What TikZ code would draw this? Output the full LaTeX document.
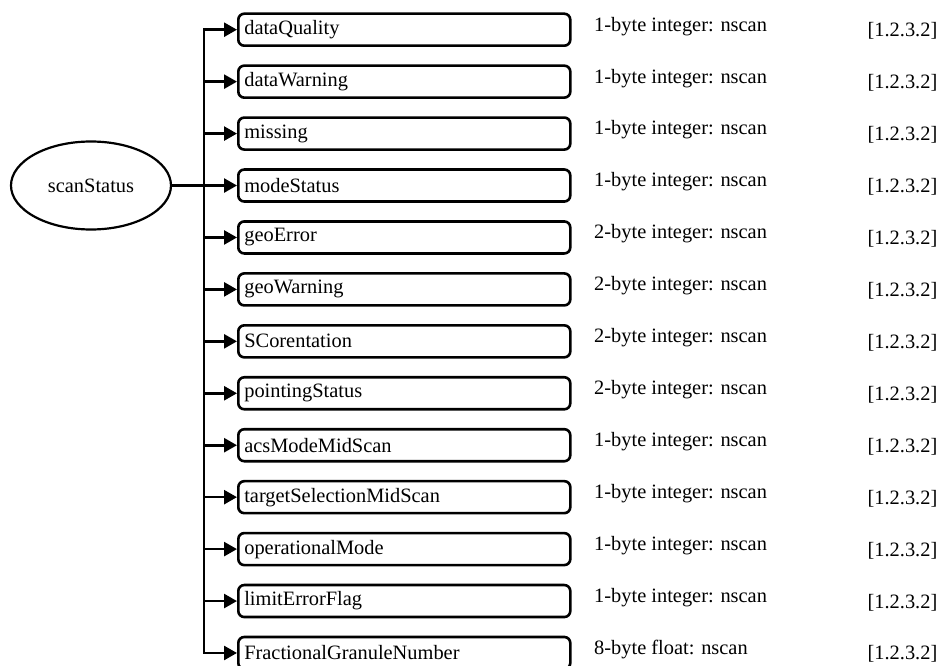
\documentclass[tikz,border=0pt]{standalone}
\usepackage{fontspec}
\setmainfont{Liberation Serif}
\usetikzlibrary{arrows.meta,shapes.geometric}
\begin{document}
\begin{tikzpicture}[x=1bp,y=-1bp,
  every node/.style={font=\fontsize{20.4bp}{24bp}\selectfont},
  field/.style={draw,line width=2.6bp,rounded corners=6bp,minimum height=32bp,
    text width=320bp,inner xsep=6bp,inner ysep=0bp,align=left,anchor=west},
  root/.style={draw,ellipse,line width=2.2bp,minimum width=160bp,minimum height=88bp,inner sep=0bp},
  info/.style={anchor=west,inner sep=0bp},
  ref/.style={anchor=east,inner sep=0bp},
  conn/.style={line width=2.6bp,-{Triangle[length=13bp,width=14bp]}}]
\useasboundingbox (0,0) rectangle (941,666);
\node[root] (ell) at (91,185.5) {scanStatus};
\coordinate (trunk) at (204,185.5);
\foreach \n/\t [count=\i from 0] in {dataQuality/1-byte integer: nscan,
  dataWarning/1-byte integer: nscan,
  missing/1-byte integer: nscan,
  modeStatus/1-byte integer: nscan,
  geoError/2-byte integer: nscan,
  geoWarning/2-byte integer: nscan,
  SCorentation/2-byte integer: nscan,
  pointingStatus/2-byte integer: nscan,
  acsModeMidScan/1-byte integer: nscan,
  targetSelectionMidScan/1-byte integer: nscan,
  operationalMode/1-byte integer: nscan,
  limitErrorFlag/1-byte integer: nscan,
  FractionalGranuleNumber/8-byte float: nscan} {
  \pgfmathsetmacro{\yy}{29.7+51.94*\i}
  \node[field] (b\i) at (237,\yy) {\n};
  \node[info] (t\i) at (594,\yy-3.5) {\t};
  \node[ref] (r\i) at (937.5,\yy+1.3) {[1.2.3.2]};
  \draw[conn] (ell.east) -- (trunk) |- (b\i.west);
}
\end{tikzpicture}
\end{document}
